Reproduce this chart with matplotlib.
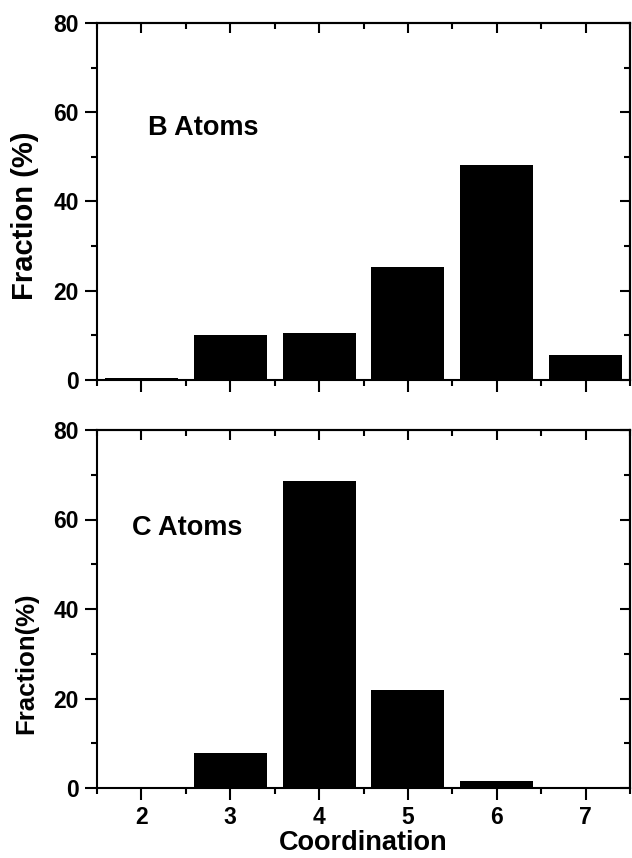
import numpy as np
import matplotlib.pyplot as plt
from matplotlib.ticker import MultipleLocator

plt.rcParams['font.family'] = ['Liberation Sans', 'DejaVu Sans']
plt.rcParams['font.weight'] = 'bold'

coord = [2, 3, 4, 5, 6, 7]
b_frac = [0.4, 10.0, 10.6, 25.3, 48.1, 5.6]
c_frac = [0.0, 7.9, 68.7, 21.9, 1.6, 0.0]

fig = plt.figure(figsize=(6.32, 8.58), dpi=100)
W, H = 632, 858
ax1 = fig.add_axes([97 / W, 1 - 380 / H, 533 / W, 357 / H])
ax2 = fig.add_axes([97 / W, 1 - 788 / H, 533 / W, 358 / H])

def style(ax, show_x):
    ax.set_xlim(1.5, 7.5)
    ax.set_ylim(0, 80)
    ax.xaxis.set_major_locator(MultipleLocator(1))
    ax.xaxis.set_minor_locator(MultipleLocator(0.5))
    ax.yaxis.set_major_locator(MultipleLocator(20))
    ax.yaxis.set_minor_locator(MultipleLocator(10))
    for s in ax.spines.values():
        s.set_linewidth(1.5)
    ax.tick_params(which='major', direction='out', length=8.5, width=1.5,
                   labelsize=16.5, pad=4.5)
    ax.tick_params(which='minor', direction='out', length=4.5, width=1.5)
    ax.tick_params(axis='x', labelbottom=show_x)
    # inward ticks on top and right
    top = ax.secondary_xaxis('top')
    top.xaxis.set_major_locator(MultipleLocator(1))
    top.xaxis.set_minor_locator(MultipleLocator(0.5))
    top.tick_params(which='major', direction='in', length=7.5, width=1.5, labeltop=False)
    top.tick_params(which='minor', direction='in', length=4, width=1.5)
    top.spines['top'].set_linewidth(1.5)
    right = ax.secondary_yaxis('right')
    right.yaxis.set_major_locator(MultipleLocator(20))
    right.yaxis.set_minor_locator(MultipleLocator(10))
    right.tick_params(which='major', direction='in', length=7.5, width=1.5, labelright=False)
    right.tick_params(which='minor', direction='in', length=4, width=1.5)
    right.spines['right'].set_linewidth(1.5)

ax1.bar(coord, b_frac, width=0.82, color='black')
ax2.bar(coord, c_frac, width=0.82, color='black')
style(ax1, False)
style(ax2, True)

ax1.set_ylabel('Fraction (%)', fontsize=21, fontweight='bold', va='center')
ax1.yaxis.set_label_coords(-0.135, 0.459)
ax2.set_ylabel('Fraction(%)', fontsize=18.5, fontweight='bold', va='center')
ax2.yaxis.set_label_coords(-0.133, 0.349)
ax2.set_xlabel('Coordination', fontsize=19.5, fontweight='bold', labelpad=1)

ax1.text(2.07, 54.9, 'B Atoms', fontsize=19.5, fontweight='bold', va='baseline')
ax2.text(1.89, 56.5, 'C Atoms', fontsize=19.5, fontweight='bold', va='baseline')

fig.savefig('out.png', dpi=100)
